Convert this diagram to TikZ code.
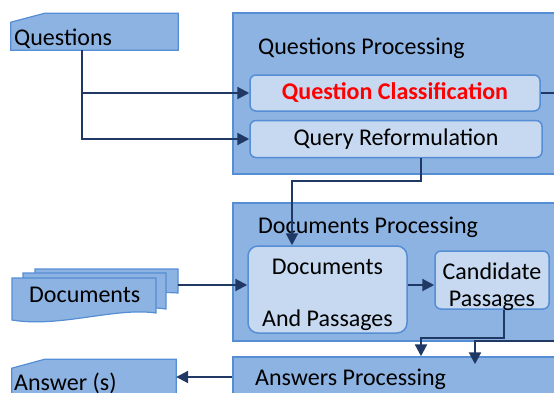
\documentclass[tikz,border=0pt]{standalone}
\usepackage{fontspec}
\setmainfont{Carlito}
\usetikzlibrary{arrows.meta}
\definecolor{outerfill}{HTML}{8DB3E2}
\definecolor{innerfill}{HTML}{C6D9F1}
\definecolor{boxline}{HTML}{558ED5}
\definecolor{arrowc}{HTML}{1F3864}
\definecolor{hired}{HTML}{FF0000}
\begin{document}
\begin{tikzpicture}[x=1pt, y=-1pt, font=\fontsize{24}{29}\selectfont,
	stage/.style={draw=boxline, fill=outerfill, line width=1.5pt, inner sep=0pt},
	inbox/.style={draw=boxline, fill=innerfill, line width=1.5pt, rounded corners=6pt, inner sep=0pt, align=center},
	src/.style={draw=boxline, fill=outerfill, line width=1.2pt},
	tag/.style={anchor=base west, inner sep=0pt},
	conn/.style={draw=arrowc, line width=2.2pt, -{Triangle[length=12pt,width=12pt]}}]
				\useasboundingbox (0,0) rectangle (554,392);
				\clip (0,0) rectangle (554,392);

				%%Questions processing
				\node[stage, minimum width=337, minimum height=161] (qp) at (401.5,93.5) {};
				\node[tag] (qplabel) at (258,54) {Questions Processing};
				\node[inbox, minimum width=290, minimum height=36, text=hired, font=\fontsize{24}{29}\selectfont\bfseries] (qc) at (395,93) {Question Classification};
				\node[inbox, minimum width=292, minimum height=37] (qr) at (396,139) {Query Reformulation};

				%%Documents processing
				\node[stage, minimum width=337, minimum height=138] (dp) at (401.5,272) {};
				\node[tag] (dplabel) at (258,233) {Documents Processing};
				\node[inbox, minimum width=159, minimum height=87, rounded corners=10pt] (dap) at (327.5,289.5) {};
				\node[align=center, inner sep=0pt] (daptext) at ([yshift=-5]dap.center) {Documents\\[23pt]And Passages};
				\node[inbox, minimum width=114, minimum height=58] (cp) at (492,280) {};
				\node[align=center, inner sep=0pt] (cptext) at ([yshift=-7]cp.center) {Candidate\\[-2pt]Passages};

				%%Answers processing
				\node[stage, minimum width=337, minimum height=40] (ap) at (401.5,377) {};
				\node[tag] (aplabel) at (255,385) {Answers Processing};

				%%Questions
				\node[minimum width=167, minimum height=37, inner sep=0pt] (quest) at (94.5,31.5) {};
				\draw[src] (quest.south west) -- ++(0,-28) -- ++(34,-9) -| (quest.south east) -- cycle;
				\node[tag] (questlabel) at (14,45) {Questions};

				%%Documents, three sheets
				\draw[src] (35,269) -- (178,269) -- (178,293) .. controls (140,290) and (90,305) .. (35,300) -- cycle;
				\draw[src] (23,273) -- (166,273) -- (166,309) .. controls (125,303) and (70,322) .. (23,314) -- cycle;
				\draw[src] (12,278) -- (156,278) -- (156,313) .. controls (115,307) and (60,328) .. (12,320) -- cycle;
				\node[minimum width=143, minimum height=32, inner sep=0pt] (docs) at (106.5,285) {};
				\node[tag] (docslabel) at (29,302) {Documents};

				%%Answer (s)
				\node[minimum width=164, minimum height=41, inner sep=0pt] (ans) at (94,379.5) {};
				\draw[src] (ans.south west) -- ++(0,-32) -- ++(33,-9) -| (ans.south east) -- cycle;
				\node[tag] (anslabel) at (14,390) {Answer (s)};

				%%connectors
				\draw[conn] ([xshift=-12.5]quest.south) |- (qc.west);
				\draw[conn] ([xshift=-12.5]quest.south) |- (qr.west);
				\draw[conn] ([xshift=25]qr.south) |- ([xshift=-35.5,yshift=64]dap.north) -- ([xshift=-35.5]dap.north);
				\draw[conn] (docs.east) -- (docs.east -| dap.west);
				\draw[conn] ([yshift=4.5]dap.east) -- ([yshift=4.5]dap.east -| cp.west);
				\draw[conn] ([xshift=12]cp.south) |- ([xshift=19.5,yshift=18]ap.north) -- ([xshift=19.5]ap.north);
				\draw[conn] (qc.east) -- ++(25,0) |- ([xshift=73.5,yshift=15]ap.north) -- ([xshift=73.5,yshift=-8]ap.north);
				\draw[conn] (ap.west) -- (ap.west -| ans.east);
\end{tikzpicture}
\end{document}
